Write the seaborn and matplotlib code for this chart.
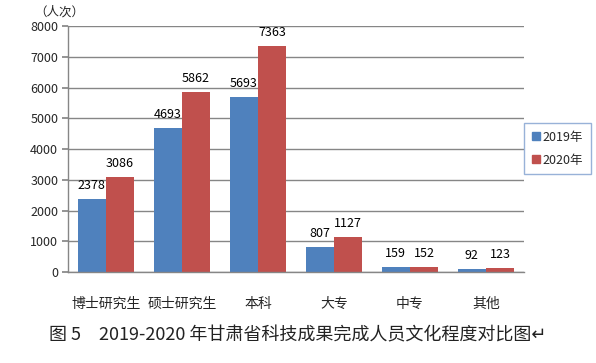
import matplotlib
matplotlib.use("Agg")
import matplotlib.pyplot as plt
import pandas as pd
import seaborn as sns

categories = ["博士研究生", "硕士研究生", "本科", "大专", "中专", "其他"]
years = ["2019年", "2020年"]
values_2019 = [2378, 4693, 5693, 807, 159, 92]
values_2020 = [3086, 5862, 7363, 1127, 152, 123]

colors = ["#4F81BD", "#C0504D"]
grid_color = "#868686"

df = pd.DataFrame({
    "category": categories * 2,
    "year": [years[0]] * len(categories) + [years[1]] * len(categories),
    "count": values_2019 + values_2020,
})

sns.set_theme(style="white")
plt.rcParams["font.family"] = ["Noto Sans CJK SC", "DejaVu Sans"]

fig = plt.figure(figsize=(5.96, 3.63), dpi=100)
ax = fig.add_axes([0.114, 0.2507, 0.765, 0.677])

sns.barplot(data=df, x="category", y="count", hue="year", palette=colors,
            width=0.74, gap=0, saturation=1, linewidth=0, ax=ax, legend=False)

for container in ax.containers:
    ax.bar_label(container, fmt="%d", padding=5, fontsize=9, color="black")

ax.set_ylim(0, 8000)
ax.set_yticks(range(0, 8001, 1000))
ax.set_xlim(-0.5, len(categories) - 0.5)
ax.set_xlabel("")
ax.set_ylabel("")
ax.yaxis.grid(True, color=grid_color, linewidth=1)
ax.set_axisbelow(True)
for side in ["top", "right"]:
    ax.spines[side].set_visible(False)
for side in ["left", "bottom"]:
    ax.spines[side].set_color(grid_color)
    ax.spines[side].set_linewidth(1)
ax.tick_params(axis="y", left=True, length=4, color=grid_color, labelsize=9, pad=3)
ax.tick_params(axis="x", bottom=False, labelsize=10, pad=12)

fig.text(0.058, 0.967, "（人次）", fontsize=9, va="center", ha="left")

handles = [plt.Line2D([], [], marker="s", linestyle="", markersize=6,
                      markerfacecolor=c, markeredgecolor=c) for c in colors]
leg = fig.legend(handles, years, loc="center", bbox_to_anchor=(0.935, 0.59),
                 fontsize=9, frameon=True, fancybox=False, handletextpad=0.2,
                 labelspacing=0.8, borderpad=0.6, handlelength=0.7,
                 borderaxespad=0)
leg.get_frame().set_edgecolor("#7F9FCF")
leg.get_frame().set_linewidth(1)

fig.text(0.5, 0.077, "图 5　2019-2020 年甘肃省科技成果完成人员文化程度对比图↵",
         fontsize=13, ha="center", va="center", color="#222222")

fig.savefig("out.png", dpi=100, facecolor="white")
